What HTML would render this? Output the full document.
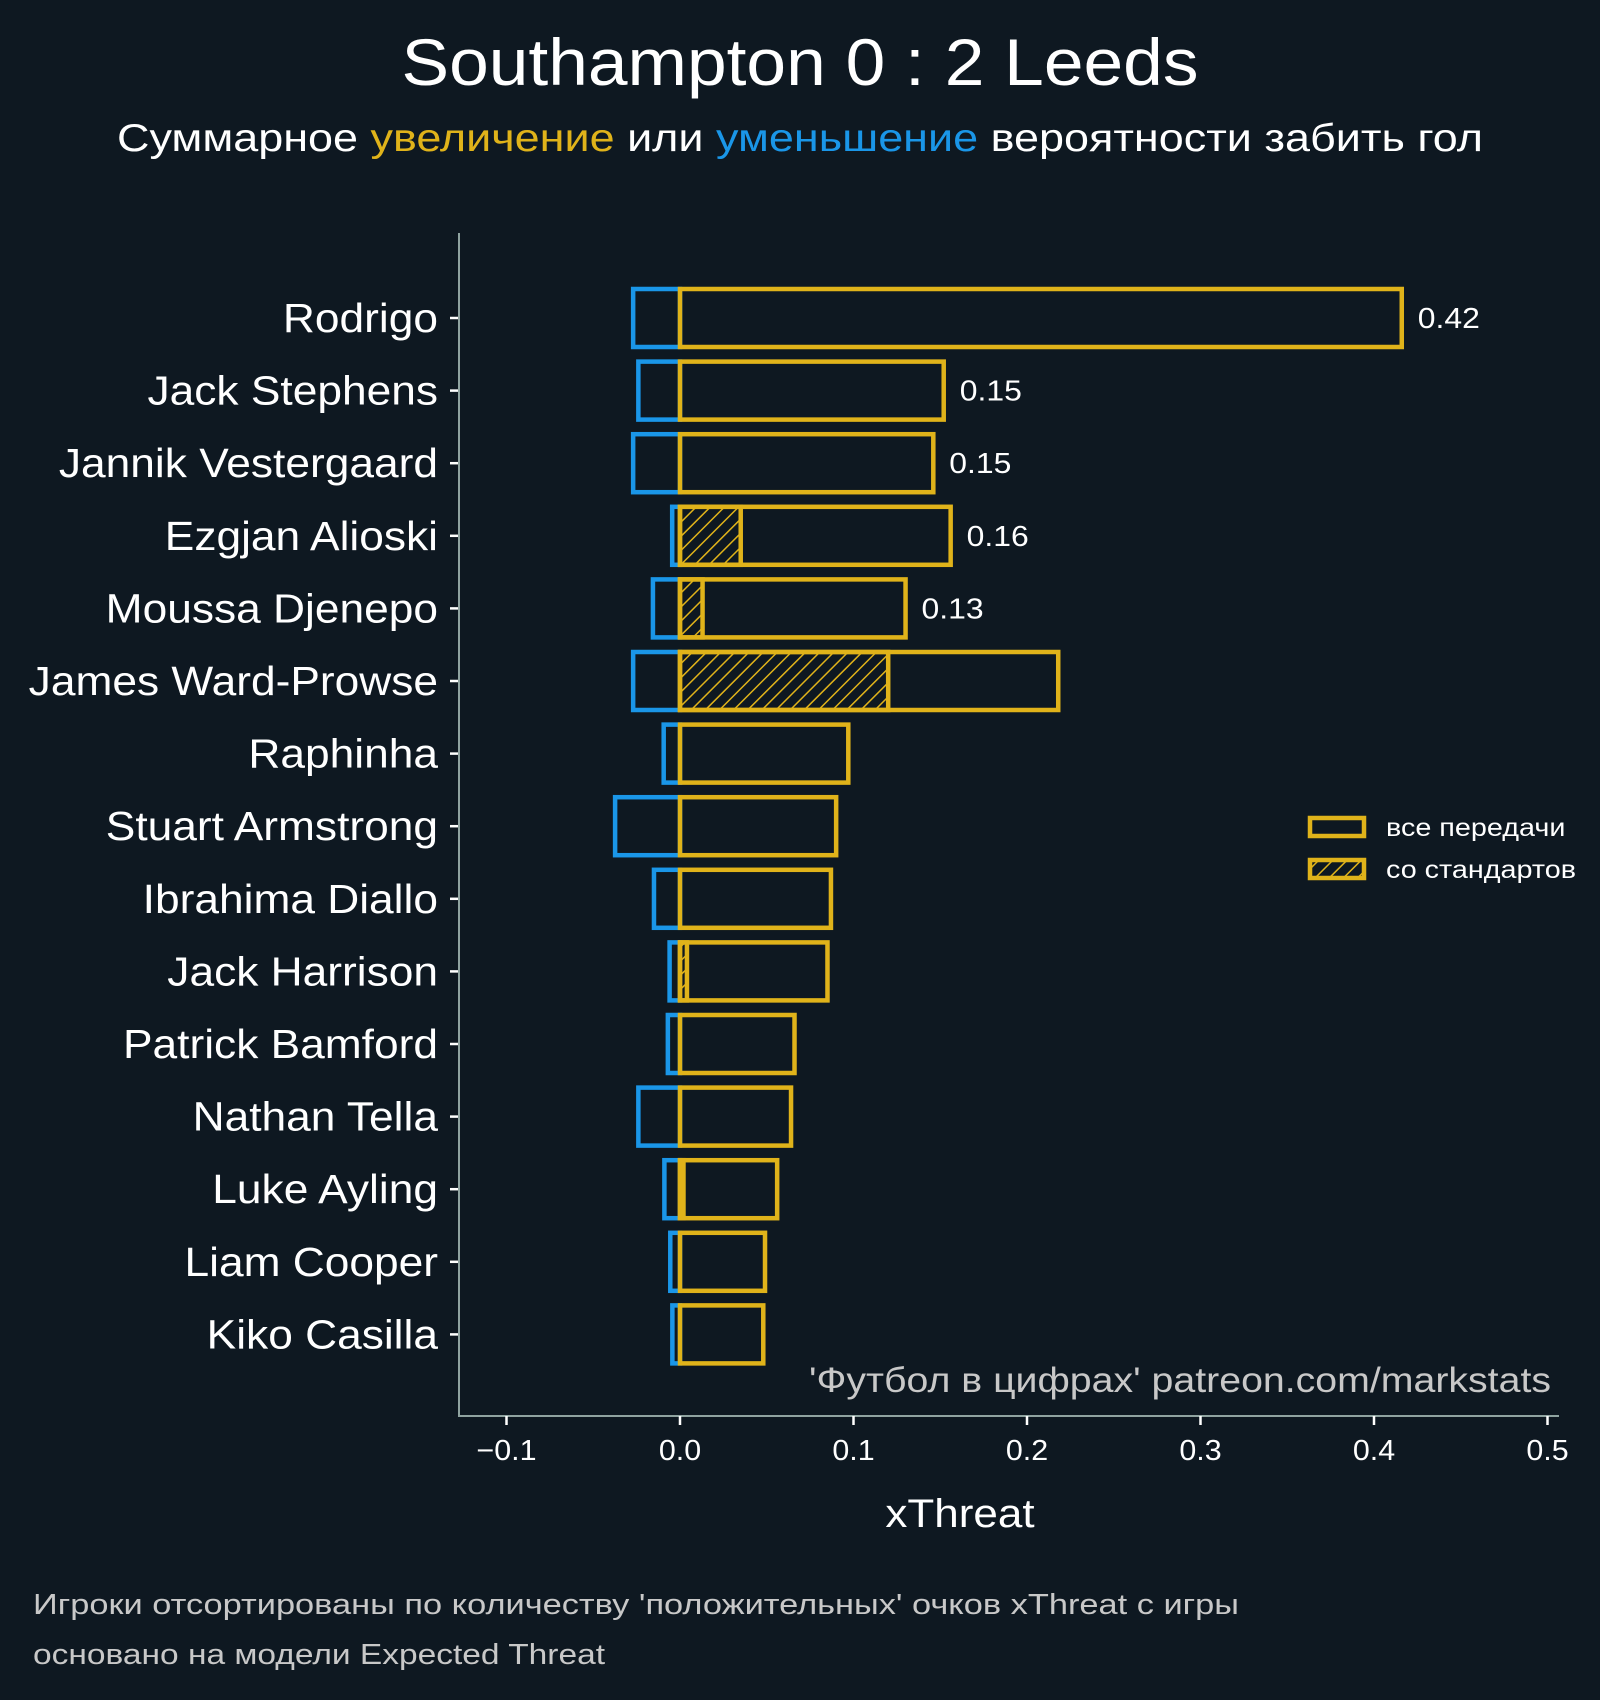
<!DOCTYPE html>
<html><head><meta charset="utf-8"><style>
html,body{margin:0;padding:0;background:#0e1821;}
svg{display:block;font-family:"Liberation Sans","Noto Sans CJK SC",sans-serif;}
</style></head><body>
<svg id="chart" width="1600" height="1700" viewBox="0 0 1600 1700" xmlns="http://www.w3.org/2000/svg">
<defs>
<pattern id="hatch" patternUnits="userSpaceOnUse" width="10" height="10" patternTransform="rotate(45)">
<rect width="10" height="10" fill="#0e1821"/>
<line x1="0" y1="0" x2="0" y2="10" stroke="#e0b31a" stroke-width="3"/>
</pattern>
</defs>
<rect width="1600" height="1700" fill="#0e1821"/>
<text x="800" y="85" text-anchor="middle" font-size="66" fill="#ffffff" textLength="797" lengthAdjust="spacingAndGlyphs">Southampton 0 : 2 Leeds</text>
<text x="800" y="151" text-anchor="middle" font-size="39" fill="#ffffff" textLength="1366" lengthAdjust="spacingAndGlyphs">Суммарное <tspan fill="#e0b31a">увеличение</tspan> или <tspan fill="#1a96e8">уменьшение</tspan> вероятности забить гол</text>
<g id="bars"></g>
<g id="axes"></g>
<text x="1551" y="1392" text-anchor="end" font-size="35" fill="#c8c8c8" textLength="742" lengthAdjust="spacingAndGlyphs">'Футбол в цифрах' patreon.com/markstats</text>
<text x="960" y="1527" text-anchor="middle" font-size="40" fill="#ffffff" class="s110">xThreat</text>
<rect x="1310" y="818" width="54" height="18" fill="none" stroke="#e0b31a" stroke-width="4.5"/>
<text x="1386" y="836" font-size="25" fill="#ffffff" class="s115">все передачи</text>
<rect x="1310" y="860" width="54" height="18" fill="url(#hatch)" stroke="#e0b31a" stroke-width="4.5"/>
<text x="1386" y="878" font-size="25" fill="#ffffff" class="s115">со стандартов</text>
<text x="33" y="1614" font-size="29" fill="#c8c8c8" textLength="1206" lengthAdjust="spacingAndGlyphs">Игроки отсортированы по количеству 'положительных' очков xThreat с игры</text>
<text x="33" y="1664" font-size="29" fill="#c8c8c8" textLength="572" lengthAdjust="spacingAndGlyphs">основано на модели Expected Threat</text>
</svg>
<script>
const players = ["Rodrigo","Jack Stephens","Jannik Vestergaard","Ezgjan Alioski","Moussa Djenepo","James Ward-Prowse","Raphinha","Stuart Armstrong","Ibrahima Diallo","Jack Harrison","Patrick Bamford","Nathan Tella","Luke Ayling","Liam Cooper","Kiko Casilla"];
const positive = [0.416,0.152,0.146,0.156,0.130,0.218,0.097,0.090,0.087,0.085,0.066,0.064,0.056,0.049,0.048];
const setPiece = [0,0,0,0.035,0.013,0.120,0,0,0,0.004,0,0,0.002,0,0];
const negative = [-0.027,-0.024,-0.027,-0.0045,-0.0156,-0.027,-0.0094,-0.0374,-0.015,-0.006,-0.007,-0.024,-0.009,-0.0056,-0.0044];
const valueLabels = ["0.42","0.15","0.15","0.16","0.13","","","","","","","","","",""];
const xTicks = [-0.1,0.0,0.1,0.2,0.3,0.4,0.5];
const xTickLabels = ["\u22120.1","0.0","0.1","0.2","0.3","0.4","0.5"];

const NS="http://www.w3.org/2000/svg";
const X0=680, PX=1735;
function xs(v){return X0+v*PX;}
const Y0=318, STEP=72.6, BH=58;
function ys(i){return Y0+i*STEP;}
function mk(tag,attrs,parent){const e=document.createElementNS(NS,tag);for(const k in attrs)e.setAttribute(k,attrs[k]);parent.appendChild(e);return e;}
const bars=document.getElementById('bars');
const axes=document.getElementById('axes');
const YEL="#e0b31a", BLU="#1a96e8", SW=4.5;
players.forEach((p,i)=>{
  const cy=ys(i);
  const nb=mk('rect',{x:xs(negative[i]),y:cy-BH/2,width:xs(0)-xs(negative[i]),height:BH,fill:"none",stroke:BLU,"stroke-width":SW},bars);
  
  
  if(setPiece[i]>0){
    const sb=mk('rect',{x:xs(0),y:cy-BH/2,width:xs(setPiece[i])-xs(0),height:BH,fill:"url(#hatch)",stroke:YEL,"stroke-width":SW},bars);
    
    
  }
  const pb=mk('rect',{x:xs(0),y:cy-BH/2,width:xs(positive[i])-xs(0),height:BH,fill:"none",stroke:YEL,"stroke-width":SW},bars);
  
  
  if(valueLabels[i]){
    const t=mk('text',{x:xs(positive[i])+16,y:cy+10,"font-size":29,fill:"#ffffff",class:"s110"},bars);
    t.textContent=valueLabels[i];
    
    
  }
  const tk=mk('line',{x1:450,x2:459,y1:cy,y2:cy,stroke:"#ffffff","stroke-width":2.5},axes);
  
  
  const lb=mk('text',{x:438,y:cy+14,"text-anchor":"end","font-size":41,fill:"#ffffff",class:"s108"},axes);
  lb.textContent=p;
  
  
});
const ya=mk('line',{x1:459,x2:459,y1:233,y2:1417,stroke:"#8fa3a0","stroke-width":2},axes);


const xa=mk('line',{x1:458,x2:1559,y1:1416,y2:1416,stroke:"#8fa3a0","stroke-width":2},axes);


xTicks.forEach((v,j)=>{
  const t=mk('line',{x1:xs(v),x2:xs(v),y1:1416,y2:1425,stroke:"#ffffff","stroke-width":2.5},axes);
  
  
  const l=mk('text',{x:xs(v),y:1460,"text-anchor":"middle","font-size":29,fill:"#ffffff",class:"s105"},axes);
  l.textContent=xTickLabels[j];
  
  
});
const factors={s105:1.05,s108:1.08,s110:1.1,s115:1.15};
for(const c in factors){
  document.querySelectorAll('text.'+c).forEach(t=>{
    const w=t.getComputedTextLength();
    t.setAttribute('textLength',(w*factors[c]).toFixed(1));
    t.setAttribute('lengthAdjust','spacingAndGlyphs');
  });
}
</script>
</body></html>
